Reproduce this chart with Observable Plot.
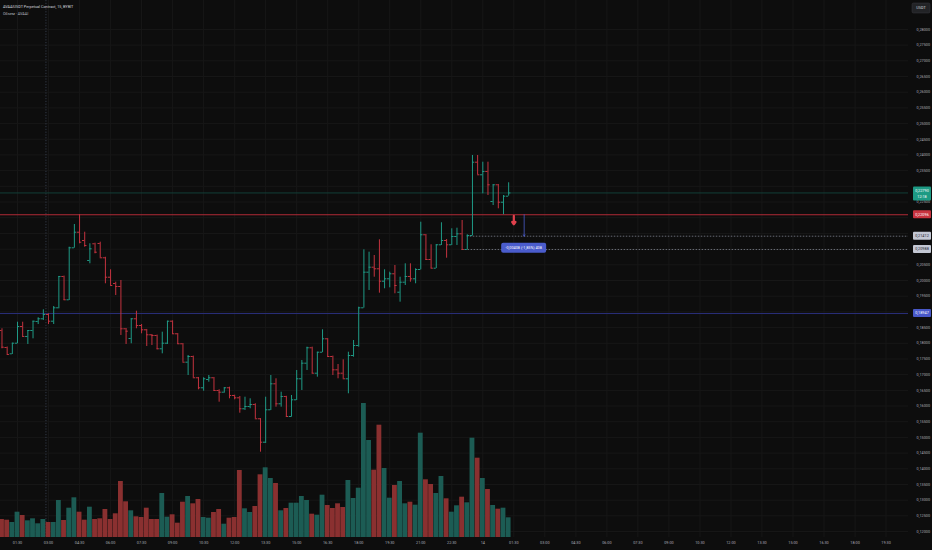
<!DOCTYPE html>
<html><head><meta charset="utf-8">
<script src="https://cdn.jsdelivr.net/npm/d3@7"></script>
<script src="https://cdn.jsdelivr.net/npm/@observablehq/plot@0.6"></script>
<style>
html,body{margin:0;padding:0;background:#0d0d0d;}
#wrap{position:relative;width:932px;height:550px;overflow:hidden;background:#0d0d0d;}
#wrap svg{position:absolute;left:0;top:0;}
</style></head><body><div id="wrap"></div>
<script>
// ---------- data ----------
const title = "AVAAIUSDT Perpetual Contract, 15, BYBIT";
const subtitle = "Объем · AVAAI";
const currency = "USDT";
const startTime = "2025-01-13T00:45:00Z";
const barMinutes = 15;

const open = [0.18407,0.17865,0.17664,0.18002,0.18534,0.18216,0.18407,0.18694,0.18780,0.18917,
0.18703,0.19130,0.20128,0.19385,0.21042,0.21539,0.21275,0.20638,0.21170,0.21180,
0.20724,0.20105,0.19905,0.19809,0.18461,0.18152,0.18780,0.18566,0.18429,0.18270,
0.18248,0.17824,0.18002,0.18703,0.18302,0.17983,0.17397,0.17578,0.16900,0.16581,
0.16845,0.16900,0.16495,0.16441,0.16581,0.16336,0.16262,0.15912,0.15985,0.16049,
0.15593,0.14847,0.15880,0.16708,0.16071,0.16304,0.15666,0.16198,0.16868,0.17365,
0.17856,0.17046,0.17715,0.18142,0.17578,0.17154,0.17046,0.16868,0.17610,0.17929,
0.19130,0.20265,0.20424,0.20373,0.19978,0.20054,0.20214,0.19627,0.19946,0.20128,
0.20054,0.20351,0.21457,0.20669,0.20392,0.21138,0.21275,0.21138,0.21402,0.21488,
0.20988,0.21434,0.23770,0.23369,0.23474,0.22518,0.23050,0.22495,0.22687];
const high = [0.18461,0.17880,0.18002,0.18671,0.18671,0.18407,0.18703,0.18812,0.19066,0.18939,
0.19172,0.20128,0.20140,0.21061,0.21785,0.22096,0.21539,0.21170,0.21189,0.21221,
0.20740,0.20341,0.19946,0.20000,0.18470,0.18780,0.19022,0.18598,0.18440,0.18279,
0.18260,0.18353,0.18703,0.18715,0.18310,0.17990,0.17610,0.17590,0.16910,0.16900,
0.16973,0.16910,0.16517,0.16581,0.16600,0.16345,0.16304,0.16281,0.16230,0.16071,
0.15600,0.16281,0.16973,0.16868,0.16441,0.16310,0.16336,0.17132,0.17451,0.17875,
0.17875,0.17715,0.18429,0.18150,0.17590,0.17323,0.17473,0.17715,0.18088,0.19149,
0.20978,0.20902,0.20797,0.21297,0.20341,0.20265,0.20478,0.20105,0.20532,0.20532,
0.20373,0.21858,0.21465,0.21138,0.21138,0.21839,0.21307,0.21648,0.21667,0.21912,
0.21457,0.23984,0.23984,0.23770,0.23770,0.23050,0.23060,0.22709,0.23114];
const low = [0.17824,0.17642,0.17642,0.17983,0.18193,0.17961,0.18142,0.18598,0.18726,0.18598,
0.18598,0.19098,0.19363,0.19363,0.21030,0.21170,0.21061,0.20532,0.20851,0.20724,
0.19895,0.19841,0.19522,0.18248,0.17961,0.17983,0.18461,0.18302,0.17897,0.17929,
0.17792,0.17664,0.17961,0.18279,0.17961,0.17397,0.16973,0.16900,0.16517,0.16472,
0.16759,0.16472,0.16122,0.16409,0.16230,0.16198,0.15771,0.15858,0.15912,0.15593,
0.14529,0.14806,0.15858,0.15963,0.15963,0.15644,0.15644,0.16176,0.16495,0.17132,
0.17027,0.16919,0.17700,0.17556,0.16973,0.16868,0.16868,0.16390,0.17556,0.17875,
0.19120,0.19682,0.20105,0.19596,0.19736,0.19767,0.19576,0.19309,0.19841,0.19946,
0.19895,0.20340,0.20638,0.20380,0.20380,0.21116,0.20711,0.21116,0.21116,0.20975,
0.20975,0.21420,0.23369,0.22763,0.22709,0.22390,0.22285,0.22096,0.22687];
const close = [0.17875,0.17642,0.18002,0.18534,0.18216,0.18407,0.18703,0.18780,0.18917,0.18703,
0.19130,0.20128,0.19385,0.21042,0.21539,0.21221,0.21116,0.21010,0.20902,0.20724,
0.20105,0.19841,0.19809,0.18461,0.18385,0.18780,0.18566,0.18429,0.18270,0.18248,
0.17824,0.18002,0.18703,0.18302,0.17983,0.17397,0.17578,0.16900,0.16581,0.16868,
0.16900,0.16495,0.16441,0.16581,0.16336,0.16262,0.15912,0.15985,0.16049,0.15593,
0.14847,0.15880,0.16708,0.16071,0.16304,0.15666,0.16198,0.16868,0.17365,0.17856,
0.17046,0.17715,0.18142,0.17578,0.17154,0.17046,0.16868,0.17610,0.17929,0.19130,
0.20265,0.20424,0.20373,0.19978,0.20054,0.20214,0.19841,0.19946,0.20128,0.20054,
0.20351,0.21457,0.20669,0.20392,0.21138,0.21275,0.21138,0.21402,0.21488,0.20988,
0.21434,0.23770,0.23369,0.23474,0.23050,0.23050,0.22495,0.22687,0.22790];
// volume, thousands of contracts
const volume = [180,173,150,253,220,167,187,137,180,150,
150,370,170,293,397,253,173,303,180,187,
280,180,237,560,357,267,207,200,293,180,
180,440,203,227,143,353,410,337,380,200,
193,250,280,133,193,200,670,287,250,310,
627,697,590,540,267,290,343,343,410,370,
233,223,423,320,290,337,300,570,390,493,
1340,970,673,1123,690,393,520,560,337,353,
323,1043,577,530,440,610,387,253,317,403,
347,993,793,590,480,320,283,293,197];

const priceTicks = [0.120,0.125,0.130,0.135,0.140,0.145,0.150,0.155,0.160,0.165,0.170,0.175,
0.180,0.185,0.190,0.195,0.200,0.205,0.210,0.215,0.220,0.225,0.230,0.235,0.240,0.245,
0.250,0.255,0.260,0.265,0.270,0.275,0.280];
const timeTicks = ["2025-01-13T01:30Z","2025-01-13T03:00Z","2025-01-13T04:30Z","2025-01-13T06:00Z",
"2025-01-13T07:30Z","2025-01-13T09:00Z","2025-01-13T10:30Z","2025-01-13T12:00Z","2025-01-13T13:30Z",
"2025-01-13T15:00Z","2025-01-13T16:30Z","2025-01-13T18:00Z","2025-01-13T19:30Z","2025-01-13T21:00Z",
"2025-01-13T22:30Z","2025-01-14T00:00Z","2025-01-14T01:30Z","2025-01-14T03:00Z","2025-01-14T04:30Z",
"2025-01-14T06:00Z","2025-01-14T07:30Z","2025-01-14T09:00Z","2025-01-14T10:30Z","2025-01-14T12:00Z",
"2025-01-14T13:30Z","2025-01-14T15:00Z","2025-01-14T16:30Z","2025-01-14T18:00Z","2025-01-14T19:30Z"];
const sessionBreaks = ["2025-01-13T03:00Z"];

const redLevel = 0.22096;     // horizontal line
const blueLevel = 0.18947;    // horizontal line
const dashLevels = [0.21412, 0.20988];
const dashStartBars = [90, 89];
const arrowBar = 99, arrowPrices = [0.22060, 0.21790];
const measureBar = 101, measurePrices = [0.22096, 0.21412];
const measureText = "-0,00408 (-1,85%) 408";
const countdown = "12:18";

// ---------- build ----------
const W = 932, H = 550, mR = 24, mB = 13;
const minute = 60000;
const t0 = new Date(startTime);
const barT = i => new Date(+t0 + i * barMinutes * minute);
const bars = open.map((o, i) => ({t: barT(i), o, h: high[i], l: low[i], c: close[i], v: volume[i], up: close[i] >= o}));
const xDomain = [barT(-0.29), barT(175.34)];
const yDomain = [0.1181, 0.28923];
const volAxisMax = 5370;
const volK = (yDomain[1] - yDomain[0]) / volAxisMax;
const tickHalf = 6.5 * minute, volHalf = 7 * minute;

const upC = "#1f9a86", dnC = "#c4333f", volUp = "#1c5c54", volDn = "#8a3030";
const fmtPrice = d => d.toFixed(5).replace(".", ",");
const fmtTime = d => (d.getUTCHours() === 0 && d.getUTCMinutes() === 0) ? String(d.getUTCDate()) : d3.utcFormat("%H:%M")(d);
const ticksX = timeTicks.map(s => new Date(s));
const lastClose = close[close.length - 1];

const labels = [
  {v: dashLevels[0], bg: "#c3c7d3", fg: "#1e2230"},
  {v: dashLevels[1], bg: "#c3c7d3", fg: "#1e2230"},
  {v: blueLevel, bg: "#4858c8", fg: "#ffffff"},
  {v: redLevel, bg: "#c8333f", fg: "#ffffff"},
  {v: lastClose, bg: "#1d9a84", fg: "#ffffff", sub: countdown}
];
// axis tick labels hidden where a price label box covers them
const axisTicks = priceTicks.filter(t => labels.every(l => Math.abs(t - l.v) > (l.sub ? 0.0023 : 0.0021)));

const chart = Plot.plot({
  width: W, height: H,
  marginLeft: 0, marginRight: mR, marginTop: 0, marginBottom: mB,
  style: {background: "transparent", color: "#a9acb4", fontFamily: "Roboto, sans-serif", fontSize: "3.8px"},
  x: {type: "utc", domain: xDomain, ticks: ticksX, tickFormat: fmtTime, tickSize: 0, tickPadding: 3.5, label: null},
  y: {domain: yDomain, ticks: axisTicks, tickFormat: fmtPrice, tickSize: 0, tickPadding: 8, label: null, axis: "right"},
  color: {type: "identity"},
  marks: [
    Plot.gridX(ticksX, {stroke: "#171717", strokeOpacity: 1}),
    Plot.gridY(priceTicks, {stroke: "#171717", strokeOpacity: 1}),
    Plot.ruleX(sessionBreaks.map(s => new Date(+new Date(s) - 7.5 * minute)), {stroke: "#333a48", strokeDasharray: "1.2,1.6", strokeWidth: 1}),
    Plot.rect(bars, {x1: d => new Date(+d.t - volHalf), x2: d => new Date(+d.t + volHalf),
      y1: () => yDomain[0], y2: d => yDomain[0] + d.v * volK, fill: d => d.up ? volUp : volDn}),
    Plot.ruleY([lastClose], {stroke: "#123f38", strokeWidth: 1}),
    Plot.ruleY([blueLevel], {stroke: "#2a2f7a", strokeWidth: 1}),
    Plot.ruleY([redLevel], {stroke: "#b02a36", strokeWidth: 1.2}),
    Plot.ruleY(dashLevels.map((v, i) => ({v, b: dashStartBars[i]})), {y: "v", x1: d => barT(d.b), x2: () => xDomain[1],
      stroke: "#7f838e", strokeDasharray: "1.5,1.5", strokeWidth: 0.8}),
    Plot.ruleX(bars, {x: "t", y1: "l", y2: "h", stroke: d => d.up ? upC : dnC, strokeWidth: 1}),
    Plot.ruleY(bars, {y: "o", x1: d => new Date(+d.t - tickHalf), x2: "t", stroke: d => d.up ? upC : dnC, strokeWidth: 1}),
    Plot.ruleY(bars, {y: "c", x1: "t", x2: d => new Date(+d.t + tickHalf), stroke: d => d.up ? upC : dnC, strokeWidth: 1}),
    Plot.arrow([0], {x1: () => barT(arrowBar), x2: () => barT(arrowBar), y1: () => arrowPrices[0], y2: () => arrowPrices[1],
      stroke: "#e0404c", strokeWidth: 2.2, headLength: 5, headAngle: 70}),
    Plot.arrow([0], {x1: () => barT(measureBar), x2: () => barT(measureBar), y1: () => measurePrices[0], y2: () => measurePrices[1],
      stroke: "#4a5ccc", strokeWidth: 0.8, headLength: 3, headAngle: 60})
  ]
});
document.getElementById("wrap").appendChild(chart);

// ---------- overlays drawn with the chart's scales ----------
const sx = chart.scale("x"), sy = chart.scale("y");
const svg = d3.select(chart);
const g = svg.append("g").attr("font-family", "Roboto, sans-serif").attr("font-size", 3.8);

g.append("text").attr("x", 3).attr("y", 7.6).attr("text-anchor", "start").attr("fill", "#d1d4dc").text(title);
g.append("text").attr("x", 3).attr("y", 15.2).attr("text-anchor", "start").attr("fill", "#b2b5be").text(subtitle);

const boxX = W - mR + 5, boxW = 18;
g.append("rect").attr("x", boxX - 1).attr("y", 3).attr("width", boxW).attr("height", 10).attr("rx", 1.5)
  .attr("fill", "#222326").attr("stroke", "#3a3b40").attr("stroke-width", 0.5);
g.append("text").attr("x", boxX - 1 + boxW / 2).attr("y", 8).attr("dy", "0.35em").attr("text-anchor", "middle")
  .attr("fill", "#d1d4dc").text(currency);

for (const lab of labels) {
  const y = sy.apply(lab.v);
  if (lab.sub) {
    g.append("rect").attr("x", boxX).attr("y", y - 6).attr("width", boxW).attr("height", 14).attr("rx", 1).attr("fill", lab.bg);
    g.append("text").attr("x", boxX + boxW / 2).attr("y", y - 2).attr("dy", "0.35em").attr("text-anchor", "middle").attr("fill", lab.fg).text(fmtPrice(lab.v));
    g.append("text").attr("x", boxX + boxW / 2).attr("y", y + 4).attr("dy", "0.35em").attr("text-anchor", "middle").attr("fill", lab.fg).text(lab.sub);
  } else {
    g.append("rect").attr("x", boxX).attr("y", y - 4).attr("width", boxW).attr("height", 8).attr("rx", 1).attr("fill", lab.bg);
    g.append("text").attr("x", boxX + boxW / 2).attr("y", y).attr("dy", "0.35em").attr("text-anchor", "middle").attr("fill", lab.fg).text(fmtPrice(lab.v));
  }
}
const mx = sx.apply(barT(measureBar)), my = sy.apply(measurePrices[1]);
g.append("rect").attr("x", mx - 22.5).attr("y", my + 7).attr("width", 45).attr("height", 10).attr("rx", 2).attr("fill", "#4a5ccc");
g.append("text").attr("x", mx).attr("y", my + 12).attr("dy", "0.35em").attr("text-anchor", "middle").attr("fill", "#ffffff").text(measureText);
</script></body></html>
